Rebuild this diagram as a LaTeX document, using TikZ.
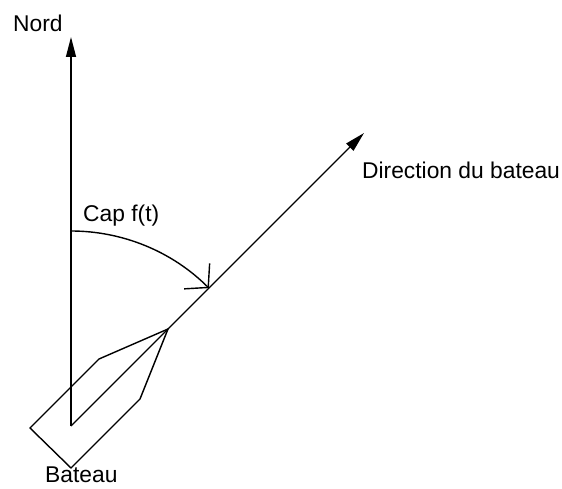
\documentclass[tikz,border=0pt]{standalone}
\usepackage{fontspec}
\setmainfont{Liberation Sans}
\usetikzlibrary{arrows.meta}
\begin{document}
\begin{tikzpicture}[x=1pt,y=1pt,
  ln/.style={line width=1.4pt},
  fillarrow/.style={ln,-{Triangle[length=20pt,width=10pt]}},
  lbl/.style={anchor=base west,inner sep=0pt,text depth=0pt,font=\fontsize{22.8}{27}\selectfont}]
\useasboundingbox (0,0) rectangle (562,488);
\coordinate (O) at (71,62);
\coordinate (N) at (71,451);
\coordinate (D) at (364,355);
\coordinate (B1) at (168,159);
\coordinate (B2) at (99,129);
\coordinate (B3) at (30,60);
\coordinate (B4) at (71,20);
\coordinate (B5) at (140,89);
\coordinate (A0) at (71,257);
\draw[fillarrow] (O) -- (N);
\draw[fillarrow] (O) -- (D);
\draw[ln,line join=miter] (B1) -- (B2) -- (B3) -- (B4) -- (B5) -- cycle;
\draw[ln,-{Straight Barb[length=16pt,width=36pt,line width=1.4pt]}] (A0) arc[start angle=90,end angle=45,radius=195];
\node[lbl] (nord) at (13,456) {Nord};
\node[lbl] (dir) at (362,309) {Direction du bateau};
\node[lbl] (cap) at (83,266) {Cap f(t)};
\node[lbl] (bat) at (45,6) {Bateau};
\end{tikzpicture}
\end{document}
